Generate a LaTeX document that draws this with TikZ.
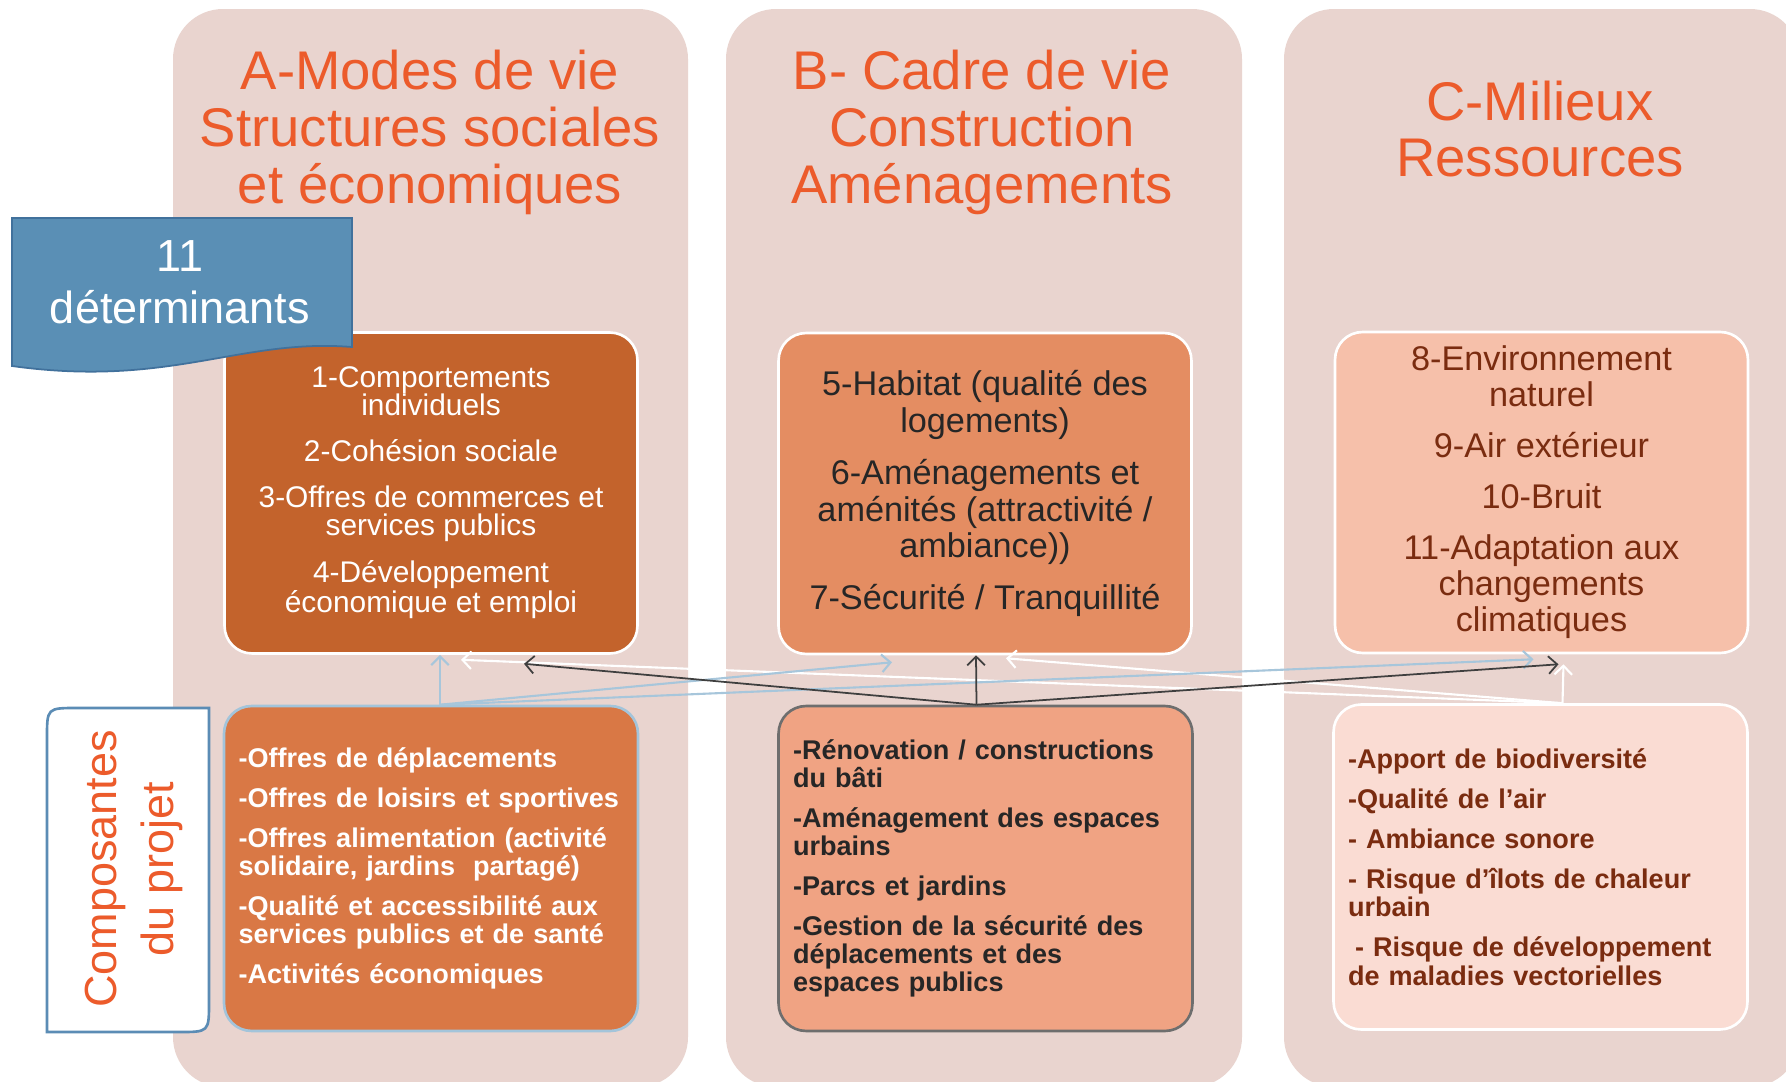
\documentclass[tikz,border=0pt]{standalone}
\usepackage{fontspec}
\setmainfont{Liberation Sans}
\usetikzlibrary{arrows.meta,calc,positioning}
\definecolor{fond}{HTML}{E9D4CF}
\definecolor{orangetitre}{HTML}{EC5B2B}
\definecolor{detAfill}{HTML}{C3632C}
\definecolor{detBfill}{HTML}{E48D62}
\definecolor{detCfill}{HTML}{F6C0AA}
\definecolor{compAfill}{HTML}{D97845}
\definecolor{compBfill}{HTML}{F0A383}
\definecolor{compCfill}{HTML}{FADCD3}
\definecolor{textB}{HTML}{262626}
\definecolor{brunC}{HTML}{7A2C10}
\definecolor{bleutag}{HTML}{5A8FB5}
\definecolor{bleutagb}{HTML}{41719C}
\definecolor{bleucomp}{HTML}{5B8CB5}
\definecolor{bleufl}{HTML}{A7C6DB}
\definecolor{noirfl}{HTML}{3F3F3F}
\definecolor{bordA}{HTML}{A3C4DA}
\definecolor{bordB}{HTML}{6E6E6E}

\begin{document}
\begin{tikzpicture}[x=0.02cm,y=-0.02cm,
col/.style={fill=fond,rounded corners=1cm},
titre/.style={text=orangetitre,align=center,font=\fontsize{31}{32.4}\selectfont},
det/.style={draw=white,line width=1.5pt,rounded corners=0.55cm,minimum width=8.26cm,minimum height=6.42cm,align=center,inner sep=0pt},
comp/.style={line width=1.5pt,rounded corners=0.55cm,minimum width=8.28cm,minimum height=6.5cm,align=left,text width=7.7cm,inner xsep=0.29cm,inner ysep=0pt,font=\bfseries\fontsize{15.4}{16}\selectfont},
fl/.style={line width=1pt,-{Straight Barb[length=5pt,width=10pt]}}]
\useasboundingbox (0,0) rectangle (1786,1082);
\fill[white] (0,0) rectangle (1786,1082);
\fill[col] (173,9) rectangle (688,1087);
\fill[col] (726,9) rectangle (1242,1087);
\fill[col] (1284,9) rectangle (1800,1087);

\node[titre] (titreA) at (430,132) {A-Modes de vie\\Structures sociales\\et économiques};
\node[titre] (titreB) at (982,132) {B- Cadre de vie\\Construction\\Aménagements};
\node[titre] (titreC) at (1540,129) {C-Milieux\\Ressources};

\node[det,fill=detAfill,text=white,font=\fontsize{17}{16}\selectfont] (detA) at (431,493) {1-Comportements\\individuels\\[10pt]2-Cohésion sociale\\[10pt]3-Offres de commerces et\\services publics\\[10pt]4-Développement\\économique et emploi};
\node[det,fill=detBfill,text=textB,font=\fontsize{19.5}{21}\selectfont] (detB) at (985,493.5) {5-Habitat (qualité des\\logements)\\[8.5pt]6-Aménagements et\\aménités (attractivité /\\ambiance))\\[8.5pt]7-Sécurité / Tranquillité};
\node[det,fill=detCfill,text=brunC,font=\fontsize{19.5}{20.5}\selectfont] (detC) at (1541.5,492.5) {8-Environnement\\naturel\\[8.5pt]9-Air extérieur\\[8.5pt]10-Bruit\\[8.5pt]11-Adaptation aux\\changements\\climatiques};

\node[comp,fill=compAfill,draw=bordA,text=white] (compA) at (431,868.5) {-Offres de déplacements\\[6.8pt]-Offres de loisirs et sportives\\[6.8pt]-Offres alimentation (activité\\solidaire, jardins\ \ partagé)\\[6.8pt]-Qualité et accessibilité aux\\services publics et de santé\\[6.8pt]-Activités économiques};
\node[comp,fill=compBfill,draw=bordB,text=textB] (compB) at (985.5,868.5) {-Rénovation / constructions\\du bâti\\[6.8pt]-Aménagement des espaces\\urbains\\[6.8pt]-Parcs et jardins\\[6.8pt]-Gestion de la sécurité des\\déplacements et des\\espaces publics};
\node[comp,fill=compCfill,draw=white,text=brunC] (compC) at (1540.5,867) {-Apport de biodiversité\\[6.8pt]-Qualité de l’air\\[6.8pt]- Ambiance sonore\\[6.8pt]- Risque d’îlots de chaleur\\urbain\\[6.8pt]\hspace*{4pt}- Risque de développement\\de maladies vectorielles};

\coordinate (oA) at ($(compA.north)+(9,0)$);
\coordinate (oB) at ($(compB.north)+(-9,0)$);
\coordinate (oC) at ($(compC.north)+(22,0)$);
\draw[fl,draw=white,line width=1.2pt] (oC) -- ($(detC.south)+(22,10)$);
\draw[fl,draw=white,line width=1.2pt] (oC) -- ($(detB.south)+(21,3)$);
\draw[fl,draw=white,line width=1.2pt] (oC) -- ($(detA.south)+(30,5)$);
\draw[fl,draw=bleufl,line width=1.2pt] (oA) -- ($(detA.south)+(9,0)$);
\draw[fl,draw=bleufl,line width=1.2pt] (oA) -- ($(detB.south)+(-93,7)$);
\draw[fl,draw=bleufl,line width=1.2pt] (oA) -- ($(detC.south)+(-8,5)$);
\draw[fl,draw=noirfl] (oB) -- ($(detA.south)+(93,9)$);
\draw[fl,draw=noirfl] (oB) -- ($(detB.south)+(-9,0)$);
\draw[fl,draw=noirfl] (oB) -- ($(detC.south)+(17,10)$);

\draw[fill=bleutag,draw=bleutagb,line width=1pt] (12,218) -- (352,218) -- (352,347) .. controls (240,338) and (170,388) .. (12,366) -- cycle;
\node[text=white,align=center,font=\fontsize{25.6}{29.6}\selectfont] (tag) at (180,282) {11\\déterminants};

\draw[fill=white,draw=bleucomp,line width=1.5pt] (47,1032) -- (47,738) .. controls (47,708) .. (77,708) -- (209,708) -- (209,1002) .. controls (209,1032) .. (179,1032) -- cycle;
\node[rotate=90,text=orangetitre,align=center,font=\fontsize{25.6}{32}\selectfont] (compo) at (134,869) {Composantes\\du projet};
\end{tikzpicture}
\end{document}
